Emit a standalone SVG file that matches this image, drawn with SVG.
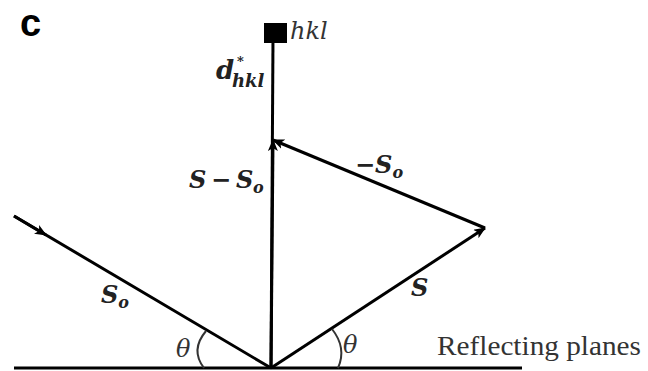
<svg xmlns="http://www.w3.org/2000/svg" width="648" height="371" viewBox="0 0 648 371">
<defs>
<marker id="ah" viewBox="0 0 12 10" refX="11" refY="5" markerWidth="12" markerHeight="10" markerUnits="userSpaceOnUse" orient="auto">
<path d="M0,0 L12,5 L0,10 L3,5 Z" fill="#000"/>
</marker>
<style>
.ln{stroke:#000;stroke-width:3;fill:none}
.arc{stroke:#333;stroke-width:2;fill:none}
.m{font-family:"DejaVu Serif","Liberation Serif",serif;font-style:italic;font-weight:bold;fill:#222;font-size:24px}
.sub{font-size:16px}
.th{font-family:"DejaVu Serif","Liberation Serif",serif;font-style:italic;fill:#333;font-size:24px}
.t{font-family:"Liberation Serif","DejaVu Serif",serif;fill:#333;font-size:27px}
</style>
</defs>
<rect width="648" height="371" fill="#fff"/>
<text x="20" y="36" font-family="Liberation Sans,Arial,sans-serif" font-weight="bold" font-size="38" fill="#000">c</text>
<g id="connectors">
<line class="ln" x1="14" y1="368" x2="522" y2="368"/>
<line class="ln" x1="271" y1="368" x2="273" y2="38"/>
<line class="ln" x1="271" y1="368" x2="273" y2="140" marker-end="url(#ah)"/>
<line class="ln" x1="485" y1="228" x2="273" y2="140" marker-end="url(#ah)"/>
<line class="ln" x1="271" y1="368" x2="485" y2="228" marker-end="url(#ah)"/>
<line class="ln" x1="14" y1="216" x2="271" y2="368"/>
<line class="ln" x1="14" y1="216" x2="46" y2="235" marker-end="url(#ah)"/>
<path class="arc" d="M206,331 Q190,350 204,368"/>
<path class="arc" d="M332,329 Q347,348 338,368"/>
</g>
<g id="node-hkl">
<rect x="264" y="23" width="23" height="20" fill="#000"/>
<text class="th" x="290" y="39">hkl</text>
</g>
<g id="label-d">
<text class="m" x="216" y="79" style="font-size:26px">d</text>
<text class="m" x="237" y="66" style="font-size:13px">*</text>
<text class="m" x="232" y="87" style="font-size:18px">hkl</text>
</g>
<g id="label-s-so">
<text class="m" x="189" y="188">S<tspan x="211">−</tspan><tspan x="236">S</tspan><tspan class="sub" x="253" dy="5">o</tspan></text>
</g>
<g id="label-neg-so">
<text class="m" x="355" y="173">−S<tspan class="sub" dy="5">o</tspan></text>
</g>
<g id="label-s">
<text class="m" x="411" y="296">S</text>
</g>
<g id="label-so">
<text class="m" x="101" y="303">S<tspan class="sub" dy="5">o</tspan></text>
</g>
<text class="th" x="176" y="357">θ</text>
<text class="th" x="343" y="353">θ</text>
<text class="t" x="437" y="355" textLength="204" lengthAdjust="spacingAndGlyphs">Reflecting planes</text>
</svg>
